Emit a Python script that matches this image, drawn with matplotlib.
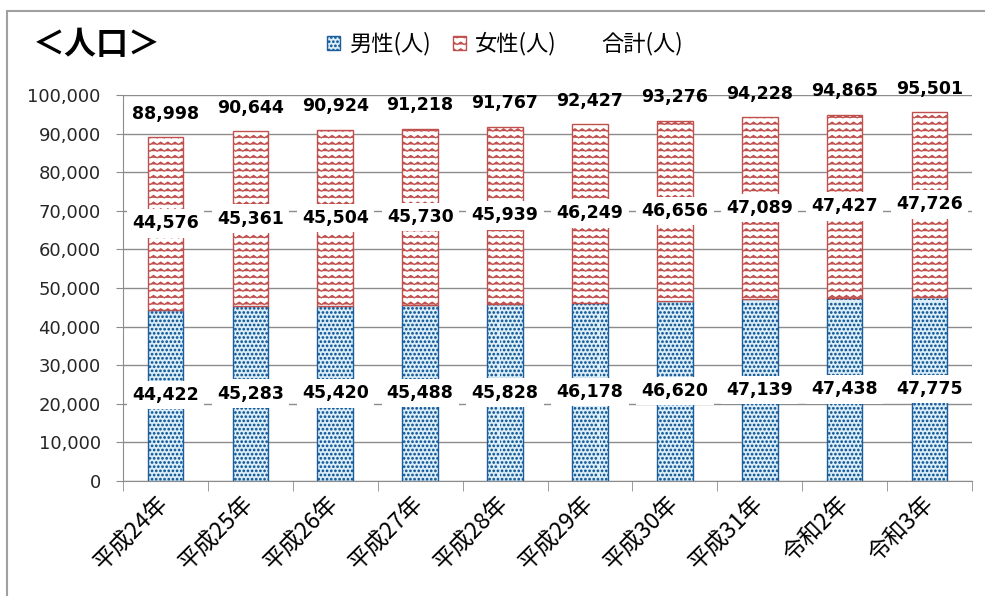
import warnings
import numpy as np
import matplotlib
matplotlib.use("Agg")
import matplotlib.pyplot as plt
import matplotlib.hatch as mhatch
from matplotlib.path import Path
from matplotlib.patches import Rectangle
from matplotlib.lines import Line2D
from matplotlib.ticker import FuncFormatter, FixedLocator

warnings.filterwarnings("ignore")

years = ["平成24年", "平成25年", "平成26年", "平成27年", "平成28年",
         "平成29年", "平成30年", "平成31年", "令和2年", "令和3年"]
male = [44422, 45283, 45420, 45488, 45828, 46178, 46620, 47139, 47438, 47775]
female = [44576, 45361, 45504, 45730, 45939, 46249, 46656, 47089, 47427, 47726]
total = [88998, 90644, 90924, 91218, 91767, 92427, 93276, 94228, 94865, 95501]


# wavy hatch like the Excel "zigzag" pattern ('z')
class ZigzagHatch(mhatch.HatchPatternBase):
    def __init__(self, hatch, density):
        self.num_rows = hatch.count('z') * 15
        self.num_peaks = 14
        self.num_vertices = self.num_rows * (2 * self.num_peaks + 1)

    def set_vertices_and_codes(self, vertices, codes):
        n = 2 * self.num_peaks + 1
        xs = np.linspace(0, 1, n)
        amp = 0.012
        offs = np.where(np.arange(n) % 2 == 0, -amp, amp)
        for i in range(self.num_rows):
            y = (i + 0.5) / self.num_rows
            vertices[i * n:(i + 1) * n, 0] = xs
            vertices[i * n:(i + 1) * n, 1] = y + offs
            codes[i * n] = Path.MOVETO
            codes[i * n + 1:(i + 1) * n] = Path.LINETO


# staggered filled dots ('d')
class DotHatch(mhatch.HatchPatternBase):
    def __init__(self, hatch, density):
        self.num_rows = hatch.count('d') * 24
        self.circle = Path.unit_circle()
        self.num_shapes = self.num_rows * self.num_rows
        self.num_vertices = self.num_shapes * len(self.circle.vertices)

    def set_vertices_and_codes(self, vertices, codes):
        nv = len(self.circle.vertices)
        r = 0.0075
        step = 1.0 / self.num_rows
        k = 0
        for row in range(self.num_rows):
            shift = step / 2 if row % 2 else 0.0
            for col in range(self.num_rows):
                cx = (col * step + shift) % 1.0
                cy = row * step
                vertices[k:k + nv] = self.circle.vertices * r + [cx, cy]
                codes[k:k + nv] = self.circle.codes
                k += nv


mhatch._hatch_types.append(ZigzagHatch)
mhatch._hatch_types.append(DotHatch)

plt.rcParams['font.family'] = ['DejaVu Sans', 'Noto Sans CJK JP']
plt.rcParams['hatch.linewidth'] = 0.9
cjk = ['Noto Sans CJK JP', 'DejaVu Sans']

blue = '#1d5f9c'
red = '#c0504d'
grey = '#8c8c8c'

fig = plt.figure(figsize=(9.85, 5.96), dpi=100)
ax = fig.add_axes([123 / 985, 1 - 481 / 596, (972 - 123) / 985, (481 - 95) / 596])

x = np.arange(len(years))
width = 0.42
b1 = ax.bar(x, male, width, color='#dceff8', edgecolor=blue, hatch='d',
            linewidth=1, label='男性(人)', zorder=2)
b2 = ax.bar(x, female, width, bottom=male, color='white', edgecolor=red,
            hatch='z', linewidth=1, label='女性(人)', zorder=2)

box = dict(boxstyle='square,pad=0.3', fc='white', ec='none')
for i in range(len(years)):
    ax.text(x[i], male[i] / 2, f"{male[i]:,}", ha='center', va='center',
            fontsize=12.5, fontweight='bold', bbox=box, zorder=4)
    ax.text(x[i], male[i] + female[i] / 2, f"{female[i]:,}", ha='center',
            va='center', fontsize=12.5, fontweight='bold', bbox=box, zorder=4)
    ax.annotate(f"{total[i]:,}", (x[i], total[i]), xytext=(0, 17),
                textcoords='offset points', ha='center', va='center',
                fontsize=12.5, fontweight='bold', zorder=4)

ax.set_xlim(-0.5, len(years) - 0.5)
ax.set_ylim(0, 100000)
ax.set_yticks(np.arange(0, 100001, 10000))
ax.yaxis.set_major_formatter(FuncFormatter(lambda v, p: f"{int(v):,}"))
ax.tick_params(axis='y', labelsize=13, length=5, color=grey, pad=11,
               labelcolor='#262626')
ax.grid(axis='y', color=grey, linewidth=1)
ax.set_axisbelow(True)

ax.set_xticks(x)
ax.set_xticklabels(years, rotation=45, ha='right', va='center',
                   rotation_mode='anchor', fontsize=16.5, family=cjk)
ax.xaxis.set_minor_locator(FixedLocator(np.arange(-0.5, len(years), 1)))
ax.tick_params(axis='x', which='major', length=0, pad=14)
ax.tick_params(axis='x', which='minor', length=7, color=grey)

for s in ['top', 'right']:
    ax.spines[s].set_visible(False)
for s in ['left', 'bottom']:
    ax.spines[s].set_color(grey)

fig.text(33 / 985, 1 - 45 / 596, '＜人口＞', fontsize=23, fontweight='bold',
         family=cjk, ha='left', va='center')

handles = [b1.patches[0], b2.patches[0], Line2D([], [], linestyle='none')]
fig.legend(handles, ['男性(人)', '女性(人)', '合計(人)'], loc='center',
           bbox_to_anchor=(505 / 985, 1 - 44 / 596), ncol=3, frameon=False,
           handlelength=0.6, handleheight=0.6, handletextpad=0.4,
           columnspacing=1.0, prop={'family': cjk, 'size': 16})

fig.patches.append(Rectangle((7 / 985, -0.1), 1.2, 1.1 - 11 / 596,
                             transform=fig.transFigure, fill=False,
                             edgecolor='#a0a0a0', linewidth=1.5))

fig.savefig('out.png', dpi=100)
